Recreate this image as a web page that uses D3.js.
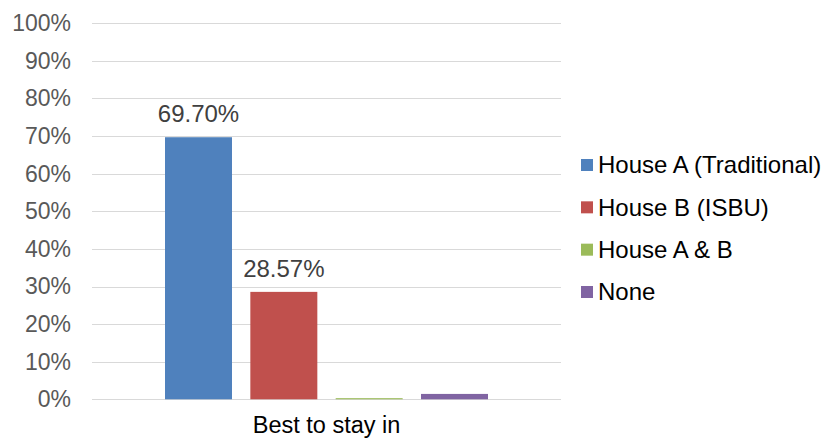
<!DOCTYPE html>
<html><head><meta charset="utf-8">
<script src="https://cdn.jsdelivr.net/npm/d3@7"></script>
<style>body{margin:0;background:#fff}svg{display:block;font-family:"Liberation Sans",Arial,sans-serif}</style>
</head><body><svg id="c" width="826" height="439"></svg>
<script>
const categories = ["Best to stay in"];
const seriesNames = ["House A (Traditional)", "House B (ISBU)", "House A & B", "None"];
const seriesValues = [69.70, 28.57, 0.30, 1.43];
const seriesColors = ["#4F81BD", "#C0504D", "#9BBB59", "#8064A2"];
const dataLabels = ["69.70%", "28.57%", null, null];
const yTicks = [0,10,20,30,40,50,60,70,80,90,100];

const svg = d3.select("#c");
const plot = {left: 92, right: 561, top: 23.3, bottom: 399.3};
const y = d3.scaleLinear().domain([0,100]).range([plot.bottom, plot.top]);
const x0 = d3.scaleBand().domain(categories).range([plot.left, plot.right]).paddingInner(0).paddingOuter(0);
const x1 = d3.scaleBand().domain(seriesNames).range([x0(categories[0]) + 73, x0(categories[0]) + x0.bandwidth() - 73]).paddingInner(0.215).paddingOuter(0);

// gridlines
svg.append("g").selectAll("line").data(yTicks).join("line")
  .attr("x1", plot.left).attr("x2", plot.right)
  .attr("y1", d=>Math.round(y(d))+0.5).attr("y2", d=>Math.round(y(d))+0.5)
  .attr("stroke", "#D9D9D9").attr("stroke-width", 1);

// y axis labels
const yAxis = d3.axisLeft(y).tickValues(yTicks).tickFormat(d=>d+"%").tickSize(0).tickPadding(0);
const ya = svg.append("g").attr("transform", `translate(71,0)`).call(yAxis);
ya.select(".domain").remove();
ya.selectAll("text").attr("font-size", 23).attr("fill", "#595959").attr("font-family", "Liberation Sans, Arial, sans-serif");

// bars
const g = svg.append("g");
g.selectAll("rect").data(seriesValues).join("rect")
  .attr("x", (d,i)=>x1(seriesNames[i]))
  .attr("width", x1.bandwidth())
  .attr("y", d=>y(d))
  .attr("height", d=>y(0)-y(d))
  .attr("fill", (d,i)=>seriesColors[i]);

// data labels
g.selectAll("text.dl").data(seriesValues).join("text").attr("class","dl")
  .filter((d,i)=>dataLabels[i])
  .attr("x", (d,i)=>x1(seriesNames[i]) + x1.bandwidth()/2)
  .attr("y", d=>y(d) - 15)
  .attr("text-anchor", "middle")
  .attr("font-size", 24).attr("fill", "#404040")
  .text((d,i)=>dataLabels[i]);

// category axis label
const xAxis = d3.axisBottom(x0).tickSize(0).tickPadding(0);
const xa = svg.append("g").attr("transform", `translate(0,${plot.bottom})`).call(xAxis);
xa.select(".domain").remove();
xa.selectAll("text").attr("font-size", 23.5).attr("fill", "#000").attr("dy", null).attr("y", 34)
  .attr("font-family", "Liberation Sans, Arial, sans-serif");

// legend
const leg = svg.append("g");
const ly = d3.scalePoint().domain(seriesNames).range([165, 292]);
seriesNames.forEach((n,i)=>{
  leg.append("rect").attr("x", 581).attr("y", ly(n)-6).attr("width", 12).attr("height", 12).attr("fill", seriesColors[i]);
  leg.append("text").attr("x", 598).attr("y", ly(n)).attr("dy", "0.35em").attr("font-size", 24).attr("fill", "#000").text(n);
});
</script></body></html>
